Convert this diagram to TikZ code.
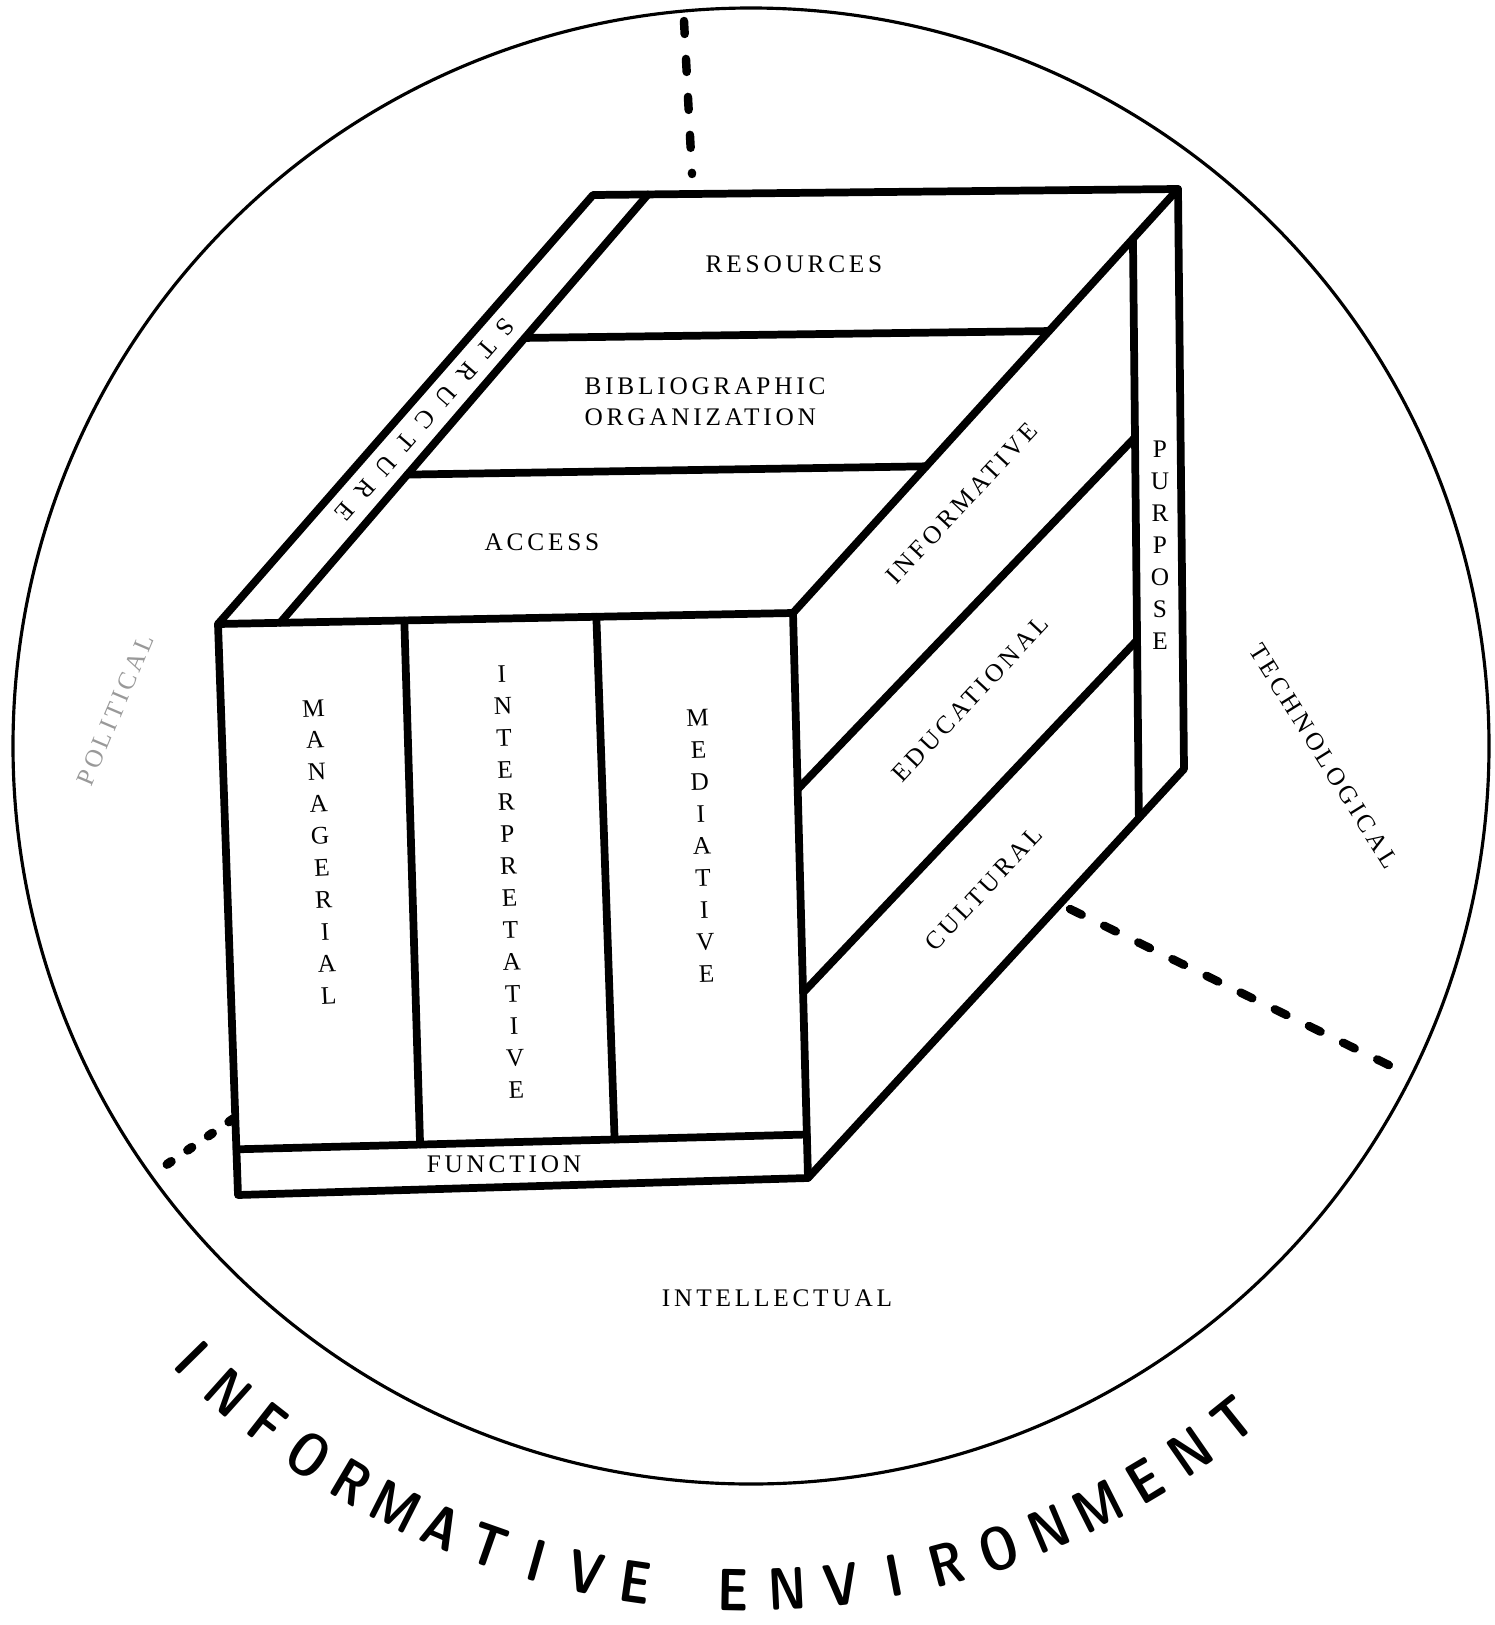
\documentclass[tikz,border=0pt]{standalone}
\usepackage{fontspec}
\newfontfamily\typed[LetterSpace=15]{Liberation Serif}
\newfontfamily\typedwide[LetterSpace=55]{Liberation Serif}
\usetikzlibrary{calc}

\begin{document}
\begin{tikzpicture} [
	box/.style = {line width = 2.2pt, line join = round, line cap = round},
	axis/.style = {line width = 2.4pt, line cap = round, dash pattern = on 0.13cm off 0.25cm},
	lbl/.style = {inner sep = 0pt, font = \typed\fontsize{7.2}{8.8}\selectfont},
	stack/.style = {lbl, align = center, font = \typed\fontsize{7.2}{9.1}\selectfont},
	env/.style = {inner sep = 0pt, font = \sffamily\bfseries\fontsize{17}{17}\selectfont}
	]
	\useasboundingbox (0,0) rectangle (14.94,-16.25);
	% environment circle
	\coordinate (hub) at (7.51,-7.46);
	\draw [line width = 0.9pt] (hub) circle (7.38);
	% corners of the box
	\coordinate (ftl) at (2.18,-6.24);
	\coordinate (ftr) at (7.93,-6.13);
	\coordinate (fbr) at (8.08,-11.78);
	\coordinate (fbl) at (2.38,-11.95);
	\coordinate (btl) at (5.93,-1.95);
	\coordinate (btr) at (11.78,-1.89);
	\coordinate (bbr) at (11.84,-7.69);
	\draw [box] (fbl) -- (ftl) -- (btl) -- (btr) -- (bbr) -- (fbr) -- cycle;
	\draw [box] (ftl) -- (ftr) -- (fbr);
	\draw [box] (ftr) -- (btr);
	% top face
	\coordinate (sa) at ($(ftl)!0.108!(ftr)$);
	\coordinate (sb) at ($(btl)!0.094!(btr)$);
	\draw [box] (sa) -- (sb);
	\draw [box] ($(sa)!0.346!(sb)$) -- ($(ftr)!0.346!(btr)$);
	\draw [box] ($(sa)!0.665!(sb)$) -- ($(ftr)!0.665!(btr)$);
	% front face
	\coordinate (fa) at ($(ftl)!0.92!(fbl)$);
	\coordinate (fb) at ($(ftr)!0.923!(fbr)$);
	\draw [box] (fa) -- (fb);
	\draw [box] ($(ftl)!0.324!(ftr)$) -- ($(fa)!0.322!(fb)$);
	\draw [box] ($(ftl)!0.658!(ftr)$) -- ($(fa)!0.663!(fb)$);
	% right face
	\coordinate (pa) at ($(ftr)!0.883!(btr)$);
	\coordinate (pb) at ($(fbr)!0.88!(bbr)$);
	\draw [box] (pa) -- (pb);
	\draw [box] ($(ftr)!0.312!(fbr)$) -- ($(pa)!0.343!(pb)$);
	\draw [box] ($(ftr)!0.672!(fbr)$) -- ($(pa)!0.693!(pb)$);
	% dashed axes
	\coordinate (up0) at (6.84,-0.21);
	\coordinate (up1) at (6.92,-1.74);
	\coordinate (rt0) at (10.70,-9.09);
	\coordinate (rt1) at (14.07,-10.74);
	\coordinate (lf0) at (2.33,-11.19);
	\coordinate (lf1) at (1.53,-11.74);
	\draw [axis] (up0) -- (up1);
	\draw [axis] (rt0) -- (rt1);
	\draw [axis, line width = 2.6pt, dash pattern = on 0.05cm off 0.2cm] (lf0) -- (lf1);
	% labels
	\node [lbl] (resources) at (7.94,-2.64) {RESOURCES};
	\node [lbl, align = left] (biblio) at (7.05,-4.02) {BIBLIOGRAPHIC\\ORGANIZATION};
	\node [lbl] (access) at (5.42,-5.42) {ACCESS};
	\node [lbl, rotate = -131, font = \typedwide\fontsize{7.2}{8.8}\selectfont] (structure) at (4.25,-4.20) {STRUCTURE};
	\node [lbl, rotate = 47] (informative) at (9.62,-5.03) {INFORMATIVE};
	\node [lbl, rotate = 47] (educational) at (9.70,-6.99) {EDUCATIONAL};
	\node [lbl, rotate = 47] (cultural) at (9.84,-8.89) {CULTURAL};
	\node [stack] (purpose) at (11.60,-5.45) {P\\U\\R\\P\\O\\S\\E};
	\node [stack, rotate = 3] (managerial) at (3.21,-8.52) {M\\A\\N\\A\\G\\E\\R\\I\\A\\L};
	\node [stack, rotate = 2] (interpretative) at (5.09,-8.82) {I\\N\\T\\E\\R\\P\\R\\E\\T\\A\\T\\I\\V\\E};
	\node [stack, rotate = 2] (mediative) at (7.02,-8.46) {M\\E\\D\\I\\A\\T\\I\\V\\E};
	\node [lbl] (function) at (5.04,-11.64) {FUNCTION};
	\node [lbl] (intellectual) at (7.77,-12.98) {INTELLECTUAL};
	\node [lbl, rotate = -58] (technological) at (13.24,-7.56) {TECHNOLOGICAL};
	\node [lbl, rotate = 67, text = black!40] (political) at (1.15,-7.10) {POLITICAL};
	% lettering round the circle
	\coordinate (arc) at (7.47,-8.12);
	\foreach \letter [count = \i, evaluate = \i as \a using 224.5+(\i-1)*3.73] in {I,N,F,O,R,M,A,T,I,V,E}
		\node [env, rotate = \a+90, xscale = 0.8] (info-\i) at ([shift = {(\a:7.78)}] arc) {\letter};
	\foreach \letter [count = \i, evaluate = \i as \a using 269.0+(\i-1)*3.97] in {E,N,V,I,R,O,N,M,E,N,T}
		\node [env, rotate = \a+90, xscale = 0.8] (envi-\i) at ([shift = {(\a:7.78)}] arc) {\letter};
\end{tikzpicture}
\end{document}
